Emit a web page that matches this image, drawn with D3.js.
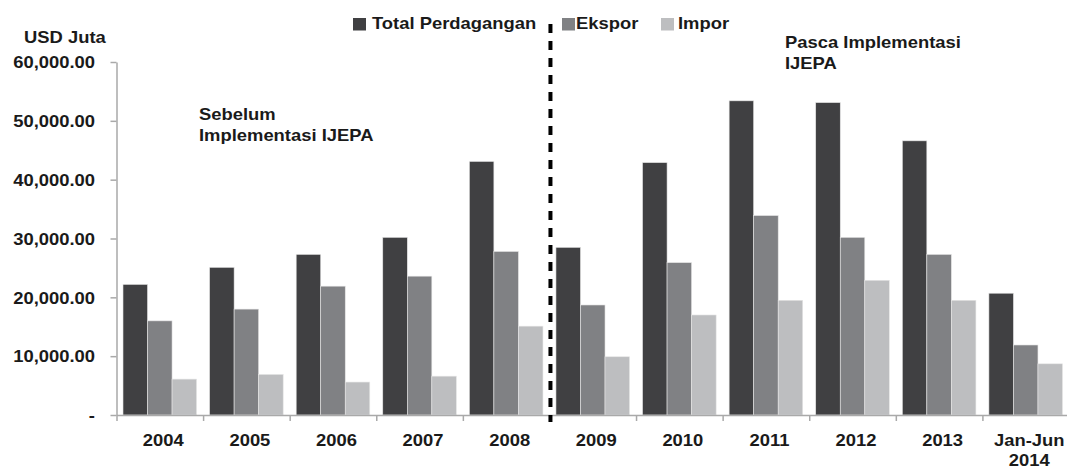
<!DOCTYPE html>
<html>
<head>
<meta charset="utf-8">
<script src="https://cdn.jsdelivr.net/npm/d3@7/dist/d3.min.js"></script>
<style>
    html, body { margin: 0; padding: 0; background: #fff; }
    svg text { font-family: "Liberation Sans", Arial, sans-serif; font-weight: bold; font-size: 16px; fill: #1a1a1a; }
</style>
</head>
<body>
<svg id="canvas" width="1067" height="473"></svg>
<script>
var categories = ['2004', '2005', '2006', '2007', '2008', '2009', '2010', '2011', '2012', '2013', 'Jan-Jun 2014'];
var seriesNames = ['Total Perdagangan', 'Ekspor', 'Impor'];
var totalValues = [22200, 25100, 27300, 30200, 43100, 28500, 42900, 53400, 53100, 46600, 20700];
var eksporValues = [16000, 18000, 21900, 23600, 27800, 18700, 25900, 33900, 30200, 27300, 11900];
var imporValues = [6100, 6900, 5600, 6600, 15100, 9900, 17000, 19500, 22900, 19500, 8700];
var yTicks = [0, 10000, 20000, 30000, 40000, 50000, 60000];
var yUnit = 'USD Juta';
var periodLabels = [['Sebelum', 'Implementasi IJEPA'], ['Pasca Implementasi', 'IJEPA']];
var splitAfter = '2008';

var colors = ['#404042', '#808184', '#bdbec0'],
    stretch = 1.15,          // source picture is stretched sideways
    axisColor = '#a9a9a9';

var svg = d3.select('#canvas'),
    values = [totalValues, eksporValues, imporValues];

var x = d3.scaleBand()
        .domain(categories)
        .range([116.5, 1069])
        .paddingInner(0.15)
        .paddingOuter(0.075),
    xSeries = d3.scaleBand()
        .domain(seriesNames)
        .range([0, x.bandwidth()]),
    xEdge = d3.scaleLinear()
        .domain([0, categories.length])
        .range(x.range()),
    y = d3.scaleLinear()
        .domain([0, 60000])
        .range([415, 62]);

// squeezed text helper: place at (px, py) then stretch horizontally
function stretchText(sel, px, py) {
    return sel.attr('x', 0).attr('y', 0)
        .attr('transform', 'translate(' + px + ',' + py + ') scale(' + stretch + ',1)');
}

// bars
var rows = categories.map(function(c, i) {
    return { cat: c, vals: seriesNames.map(function(s, j) { return { name: s, v: values[j][i], k: j }; }) };
});

var groups = svg.append('g').attr('class', 'bars')
    .selectAll('g')
    .data(rows)
    .enter().append('g')
        .attr('transform', function(d) { return 'translate(' + x(d.cat) + ',0)'; });

groups.selectAll('rect')
    .data(function(d) { return d.vals; })
    .enter().append('rect')
        .attr('x', function(d) { return xSeries(d.name); })
        .attr('width', xSeries.bandwidth())
        .attr('y', function(d) { return y(d.v); })
        .attr('height', function(d) { return y(0) - y(d.v); })
        .attr('fill', function(d) { return colors[d.k]; })
        .attr('stroke', '#e6e6e6')
        .attr('stroke-width', 0.6);

// y axis
var yAxis = svg.append('g')
    .attr('class', 'y-axis')
    .attr('transform', 'translate(' + x.range()[0] + ',0)')
    .call(d3.axisLeft(y)
        .tickValues(yTicks)
        .tickSize(6)
        .tickSizeOuter(0)
        .tickFormat(function(d) { return d === 0 ? '-' : d3.format(',.2f')(d); }));
yAxis.select('.domain').attr('stroke', axisColor).attr('stroke-width', 1.5);
yAxis.selectAll('.tick line').attr('stroke', axisColor).attr('stroke-width', 1.5);
yAxis.selectAll('.tick text')
    .attr('fill', '#1a1a1a')
    .style('font-size', '16px')
    .attr('dy', '0.36em')
    .attr('x', -21.5 / stretch)
    .attr('transform', 'scale(' + stretch + ',1)');

// x axis: ticks on the category edges
var xAxis = svg.append('g')
    .attr('class', 'x-axis')
    .attr('transform', 'translate(0,' + y(0) + ')')
    .call(d3.axisBottom(xEdge)
        .tickValues(d3.range(categories.length + 1))
        .tickSize(6)
        .tickSizeOuter(0)
        .tickFormat(''));
xAxis.select('.domain').attr('stroke', axisColor).attr('stroke-width', 1.5);
xAxis.selectAll('.tick line').attr('stroke', axisColor).attr('stroke-width', 1.5);

// category labels, split into lines
svg.append('g').attr('class', 'x-labels')
    .selectAll('text')
    .data(categories)
    .enter().append('text')
        .attr('text-anchor', 'middle')
        .each(function(d) {
            var t = d3.select(this),
                parts = d.split(' ');
            stretchText(t, x(d) + x.bandwidth() / 2 + 3.5, 446);
            parts.forEach(function(p, i) {
                t.append('tspan').attr('x', 0).attr('dy', i === 0 ? 0 : 20).text(p);
            });
        });

// unit label
stretchText(svg.append('text'), 24, 43).text(yUnit);

// divider between periods
var splitX = x(splitAfter) + x.step() - x.step() * x.paddingInner() / 2 + 1;
svg.append('line')
    .attr('x1', splitX).attr('x2', splitX)
    .attr('y1', 24).attr('y2', 422)
    .attr('stroke', '#000')
    .attr('stroke-width', 4)
    .attr('stroke-dasharray', '9,8');

// period notes
[[199, 120], [785, 48]].forEach(function(pos, i) {
    var t = stretchText(svg.append('text'), pos[0], pos[1]);
    periodLabels[i].forEach(function(line, j) {
        t.append('tspan').attr('x', 0).attr('dy', j === 0 ? 0 : 21.5).text(line);
    });
});

// legend
var legendPos = [353, 562, 661];
var legend = svg.append('g').attr('class', 'legend')
    .selectAll('g')
    .data(seriesNames)
    .enter().append('g')
        .attr('transform', function(d, i) { return 'translate(' + legendPos[i] + ',18)'; });
legend.append('rect')
    .attr('width', 13)
    .attr('height', 12.5)
    .attr('fill', function(d, i) { return colors[i]; });
legend.append('text')
    .attr('transform', function(d, i) { return 'translate(' + (i === 0 ? 19 : i === 1 ? 14 : 17) + ',10.5) scale(' + stretch + ',1)'; })
    .text(function(d) { return d; });
</script>
</body>
</html>
